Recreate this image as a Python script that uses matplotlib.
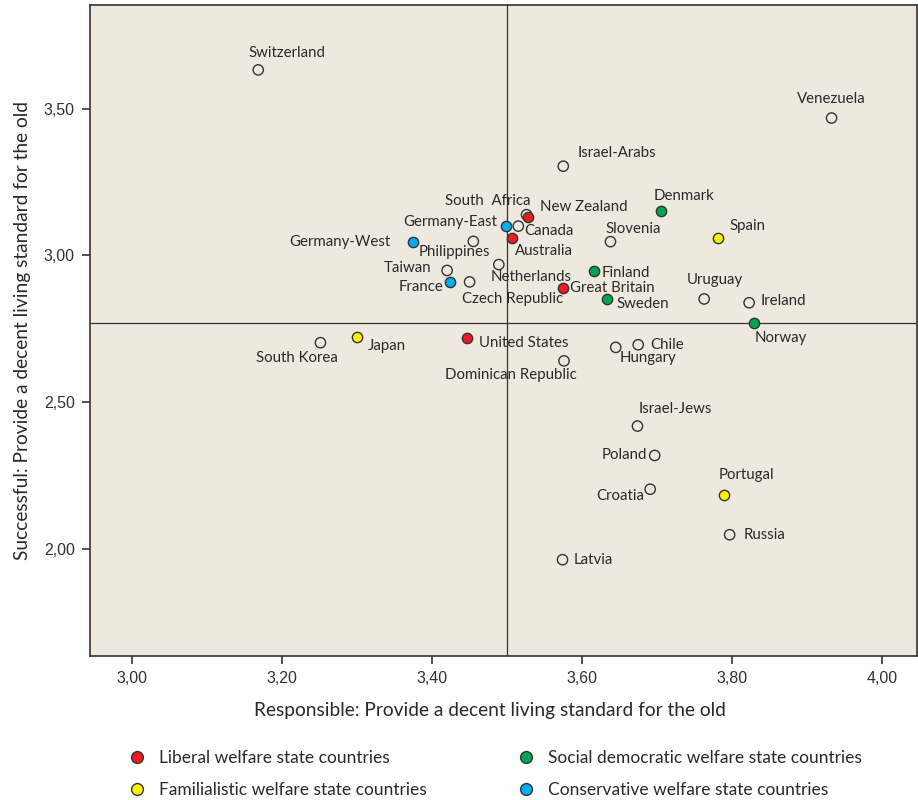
import matplotlib
matplotlib.use("Agg")
import matplotlib.pyplot as plt
from matplotlib.lines import Line2D
from matplotlib.ticker import FixedLocator, FuncFormatter

# ---- data ------------------------------------------------------------------
countries = ["Switzerland", "Venezuela", "Israel-Arabs", "South  Africa", "New Zealand",
             "Denmark", "Germany-East", "Canada", "Spain", "Slovenia",
             "Germany-West", "Philippines", "Australia", "Taiwan", "Netherlands",
             "Finland", "Uruguay", "France", "Great Britain", "Ireland",
             "Czech Republic", "Sweden", "Norway", "United States", "Japan",
             "South Korea", "Chile", "Hungary", "Dominican Republic", "Israel-Jews",
             "Poland", "Portugal", "Croatia", "Russia", "Latvia"]
responsible = [3.168, 3.933, 3.575, 3.526, 3.528,
               3.706, 3.498, 3.515, 3.782, 3.638,
               3.375, 3.455, 3.506, 3.420, 3.489,
               3.616, 3.763, 3.424, 3.574, 3.823,
               3.450, 3.633, 3.830, 3.446, 3.300,
               3.251, 3.675, 3.645, 3.576, 3.674,
               3.697, 3.789, 3.691, 3.797, 3.574]
successful = [3.632, 3.468, 3.304, 3.139, 3.130,
              3.153, 3.100, 3.100, 3.059, 3.047,
              3.047, 3.048, 3.059, 2.949, 2.969,
              2.946, 2.852, 2.908, 2.889, 2.839,
              2.910, 2.852, 2.769, 2.720, 2.722,
              2.703, 2.696, 2.687, 2.641, 2.419,
              2.319, 2.184, 2.204, 2.049, 1.964]
regime = ["none", "none", "none", "none", "liberal",
          "socdem", "conservative", "none", "familial", "none",
          "conservative", "none", "liberal", "none", "none",
          "socdem", "none", "conservative", "liberal", "none",
          "none", "socdem", "socdem", "liberal", "familial",
          "none", "none", "none", "none", "none",
          "none", "familial", "none", "none", "none"]
mean_x, mean_y = 3.50, 2.770

regime_names = {"liberal": "Liberal welfare state countries",
                "familial": "Familialistic welfare state countries",
                "socdem": "Social democratic welfare state countries",
                "conservative": "Conservative welfare state countries"}
xticks = [3.0, 3.2, 3.4, 3.6, 3.8, 4.0]
yticks = [2.0, 2.5, 3.0, 3.5]

# ---- style -----------------------------------------------------------------
BG = "#ede9df"
colors = {"liberal": "#ec1c24", "familial": "#fff200", "socdem": "#00a651",
          "conservative": "#00aeef", "none": "none"}
LBL = ["Lato", "DejaVu Sans"]

# label placement: (dx, dy) in pixels from the point, horizontal alignment
offsets = {
    "Switzerland": (29, 17, "center"), "Venezuela": (0, 19, "center"),
    "Israel-Arabs": (14, 13, "left"), "South  Africa": (4, 14, "right"),
    "New Zealand": (12, 10, "left"), "Denmark": (-8, 15, "left"),
    "Germany-East": (-8, 4, "right"), "Canada": (6, -5, "left"),
    "Spain": (11, 12, "left"), "Slovenia": (-5, 13, "left"),
    "Germany-West": (-23, 0, "right"), "Philippines": (-19, -11, "center"),
    "Australia": (3, -13, "left"), "Taiwan": (-16, 2, "right"),
    "Netherlands": (-8, -12, "left"), "Finland": (8, -2, "left"),
    "Uruguay": (11, 19, "center"), "France": (-7, -5, "right"),
    "Great Britain": (7, 0, "left"), "Ireland": (11, 2, "left"),
    "Czech Republic": (-8, -17, "left"), "Sweden": (10, -5, "left"),
    "Norway": (0, -15, "left"), "United States": (12, -5, "left"),
    "Japan": (11, -9, "left"), "South Korea": (17, -15, "right"),
    "Chile": (12, 0, "left"), "Hungary": (4, -11, "left"),
    "Dominican Republic": (-53, -14, "center"), "Israel-Jews": (1, 17, "left"),
    "Poland": (-8, 0, "right"), "Portugal": (-5, 20, "left"),
    "Croatia": (-6, -7, "right"), "Russia": (14, 0, "left"),
    "Latvia": (11, 0, "left"),
}

fig = plt.figure(figsize=(9.18, 8.0), dpi=100)
ax = fig.add_axes([90 / 918, 1 - 656 / 800, 827 / 918, 651 / 800])
ax.set_facecolor(BG)
ax.set_xlim(2.9435, 4.047)
ax.set_ylim(1.636, 3.853)

ax.axvline(mean_x, color="#333333", lw=0.9, zorder=1)
ax.axhline(mean_y, color="#333333", lw=0.9, zorder=1)

for name, x, y, g in zip(countries, responsible, successful, regime):
    ax.scatter(x, y, s=55, facecolor=colors[g], edgecolor="#333333",
               linewidth=1.0, zorder=3)
    dx, dy, ha = offsets[name]
    ax.annotate(name, (x, y), xytext=(dx, dy), textcoords="offset pixels",
                ha=ha, va="center", fontsize=10.8, family=LBL,
                color="#2a2a2a", zorder=4)

fmt = FuncFormatter(lambda v, _: f"{v:.2f}".replace(".", ","))
ax.xaxis.set_major_locator(FixedLocator(xticks))
ax.yaxis.set_major_locator(FixedLocator(yticks))
ax.xaxis.set_major_formatter(fmt)
ax.yaxis.set_major_formatter(fmt)
ax.tick_params(direction="out", length=6, width=1.2, color="#333333",
               labelsize=11.5, labelcolor="#333333", pad=5)
for lab in ax.get_xticklabels() + ax.get_yticklabels():
    lab.set_family(["Liberation Sans", "DejaVu Sans"])
for sp in ax.spines.values():
    sp.set_color("#333333")
    sp.set_linewidth(1.2)

ax.set_xlabel("Responsible: Provide a decent living standard for the old",
              fontsize=13.8, family=LBL, color="#2a2a2a", labelpad=11)
ax.set_ylabel("Successful: Provide a decent living standard for the old",
              fontsize=13.8, family=LBL, color="#2a2a2a", labelpad=9)
ax.xaxis.label.set_x((490 - 90) / 827)

# legend: two columns, placed by the marker centre of each column
def handle(k):
    return Line2D([], [], marker="o", ls="none", markersize=8.5,
                  markerfacecolor=colors[k], markeredgecolor="#333333",
                  label=regime_names[k])

for keys, mx in [(["liberal", "familial"], 137), (["socdem", "conservative"], 526)]:
    fig.legend(handles=[handle(k) for k in keys], loc="center left",
               bbox_to_anchor=((mx - 8.7) / 918, 1 - 774 / 800), frameon=False,
               prop={"family": LBL, "size": 12.5}, handlelength=1.0,
               handletextpad=0.75, borderpad=0, borderaxespad=0,
               labelspacing=0.95, labelcolor="#2a2a2a")

fig.savefig("out.png", dpi=100, facecolor="white")
